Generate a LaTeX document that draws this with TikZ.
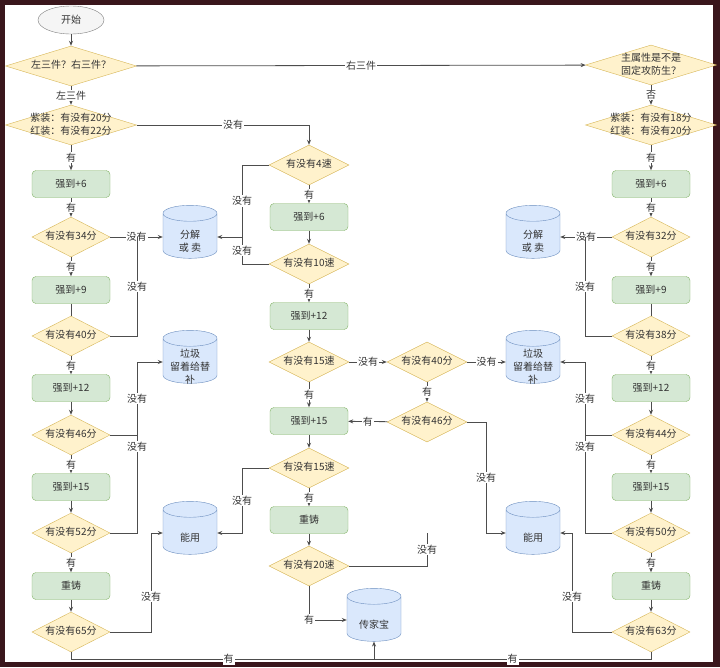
\documentclass[tikz,border=0pt]{standalone}
\usepackage{fontspec}
\setmainfont{Noto Sans CJK SC}
\usetikzlibrary{shapes.geometric, arrows.meta}

\definecolor{bgdark}{RGB}{58,22,28}
\definecolor{askfill}{HTML}{FFF2CC}
\definecolor{askline}{HTML}{D6B656}
\definecolor{actfill}{HTML}{D5E8D4}
\definecolor{actline}{HTML}{82B366}
\definecolor{dbfill}{HTML}{DAE8FC}
\definecolor{dbline}{HTML}{6C8EBF}
\definecolor{wirec}{HTML}{4D4D4D}
\definecolor{txt}{HTML}{333333}

\newcommand{\dmd}[1]{\makebox[0pt]{\begin{tabular}{@{}c@{}}#1\end{tabular}}}
\newcommand{\dbt}[1]{\raisebox{-8pt}[12pt][12pt]{\makebox[40pt]{\begin{tabular}{@{}c@{}}#1\end{tabular}}}}

\tikzset{
	oval/.style={ellipse, draw=gray, fill=gray!8, minimum width=66, minimum height=28},
	ask/.style={diamond, draw=askline, fill=askfill, inner sep=0pt, minimum width=78, minimum height=40},
	askm/.style={ask, minimum width=80},
	wide/.style={ask, minimum width=131},
	act/.style={rectangle, rounded corners=4, draw=actline, fill=actfill, minimum width=78, minimum height=27},
	db/.style={cylinder, shape border rotate=90, aspect=0.38, draw=dbline, fill=dbfill, minimum width=54, minimum height=53, inner sep=1pt},
	tag/.style={fill=white, inner sep=1pt},
	wire/.style={draw=wirec, line width=0.8pt},
	arr/.style={wire, -{Stealth[length=5pt,width=4pt]}}
}

\begin{document}
\begin{tikzpicture}[x=1pt, y=-1pt, every node/.style={font=\fontsize{10}{13}\selectfont, text=txt}]
			\fill[bgdark] (0,0) rectangle (720,667);
			\fill[white] (5,5) rectangle (713,662);
			\useasboundingbox (0,0) rectangle (720,667);

			\node[oval] (start) at (71,20) {开始};
			\node[wide] (q0) at (71,66) {\dmd{左三件？右三件？}};
			\node[wide] (attr) at (651,65) {\dmd{主属性是不是\\固定攻防生？}};
			\node[wide] (l0) at (71,125) {\dmd{紫装：有没有20分\\红装：有没有22分}};
			\node[wide] (r0) at (651,125) {\dmd{紫装：有没有18分\\红装：有没有20分}};

			\foreach \p/\x in {l/71, r/651}
			{
				\foreach \i/\y/\t in {1/184/强到+6, 3/290/强到+9, 5/388/强到+12, 7/487/强到+15, 9/586/重铸}
				{
					\node[act] (\p\i) at (\x,\y) {\t};
				}
			}
			\foreach \i/\y/\a/\b in {2/237/34/32, 4/336/40/38, 6/435/46/44, 8/533/52/50, 10/632/65/63}
			{
				\node[ask] (l\i) at (71,\y) {\dmd{有没有\a 分}};
				\node[ask] (r\i) at (651,\y) {\dmd{有没有\b 分}};
			}

			\node[askm] (m4) at (309,165) {\dmd{有没有4速}};
			\node[act] (ms6) at (309,217) {强到+6};
			\node[askm] (m10) at (309,264) {\dmd{有没有10速}};
			\node[act] (ms12) at (309,316) {强到+12};
			\node[askm] (m15) at (309,362) {\dmd{有没有15速}};
			\node[askm] (m40) at (427,362) {\dmd{有没有40分}};
			\node[askm] (m46) at (427,422) {\dmd{有没有46分}};
			\node[act] (ms15) at (309,421) {强到+15};
			\node[askm] (m15b) at (309,468) {\dmd{有没有15速}};
			\node[act] (mcz) at (309,520) {重铸};
			\node[askm] (m20) at (309,566) {\dmd{有没有20速}};

			\node[db] (fjl) at (190,237) {\dbt{分解\\或 卖}};
			\node[db] (ljl) at (190,362) {\dbt{垃圾\\留着给替\\补}};
			\node[db] (nyl) at (190,533) {\dbt{能用}};
			\node[db] (fjr) at (533,237) {\dbt{分解\\或 卖}};
			\node[db] (ljr) at (533,362) {\dbt{垃圾\\留着给替\\补}};
			\node[db] (nyr) at (533,533) {\dbt{能用}};
			\node[db] (cjb) at (374,620) {\dbt{传家宝}};

			\coordinate (ja) at (137,237);
			\coordinate (jb) at (137,362);
			\coordinate (jc) at (137,435);
			\coordinate (jd) at (151,533);
			\coordinate (je) at (242,237);
			\coordinate (jf) at (242,533);
			\coordinate (jg) at (486,533);
			\coordinate (jh) at (427,533);
			\coordinate (jk) at (427,566);
			\coordinate (ji) at (374,659);
			\coordinate (ka) at (585,237);
			\coordinate (kb) at (585,362);
			\coordinate (kc) at (585,435);
			\coordinate (kd) at (572,533);

			\draw[arr] (start) -- (q0);
			\draw[arr] (q0) -- node[tag] {左三件} (l0);
			\draw[arr] (q0) -- node[tag] {右三件} (attr);
			\draw[arr] (attr) -- node[tag] {否} (r0);

			\foreach \p in {l,r}
			{
				\foreach \a/\b in {0/1, 1/2, 2/3, 4/5, 6/7, 8/9}
				{
					\draw[arr] (\p\a) -- node[tag] {有} (\p\b);
				}
				\foreach \a/\b in {5/6, 7/8, 9/10}
				{
					\draw[arr] (\p\a) -- (\p\b);
				}
				\draw[wire] (\p3) -- (\p4);
			}

			\draw[arr] (l2) -- node[tag] {没有} (fjl);
			\draw[wire] (l4.east) -| node[tag, pos=0.75] {没有} (ja);
			\draw[arr] (l6.east) -| node[tag, pos=0.75] {没有} (jb) -- (ljl);
			\draw[wire] (l8.east) -| node[tag, pos=0.94] {没有} (jc);
			\draw[arr] (l10.east) -| node[tag, pos=0.68] {没有} (jd) -- (nyl);

			\draw[arr] (r2) -- node[tag] {没有} (fjr);
			\draw[wire] (r4.west) -| node[tag, pos=0.75] {没有} (ka);
			\draw[arr] (r6.west) -| node[tag, pos=0.75] {没有} (kb) -- (ljr);
			\draw[wire] (r8.west) -| node[tag, pos=0.94] {没有} (kc);
			\draw[arr] (r10.west) -| node[tag, pos=0.68] {没有} (kd) -- (nyr);

			\draw[arr] (l0.east) -| node[tag, pos=0.28] {没有} (m4);
			\draw[arr] (m4) -- node[tag] {有} (ms6);
			\draw[arr] (ms6) -- (m10);
			\draw[arr] (m4.west) -| node[tag, pos=0.75] {没有} (je) -- (fjl);
			\draw[wire] (m10.west) -| node[tag, pos=0.75] {没有} (je);
			\draw[arr] (m10) -- node[tag] {有} (ms12);
			\draw[arr] (ms12) -- (m15);
			\draw[arr] (m15) -- node[tag] {有} (ms15);
			\draw[arr] (m15) -- node[tag] {没有} (m40);
			\draw[arr] (m40) -- node[tag] {没有} (ljr);
			\draw[arr] (m40) -- node[tag] {有} (m46);
			\draw[arr] (m46) -- node[tag] {有} (ms15);
			\draw[arr] (m46.east) -| node[tag, pos=0.75] {没有} (jg) -- (nyr);
			\draw[arr] (ms15) -- (m15b);
			\draw[arr] (m15b.west) -| node[tag, pos=0.75] {没有} (jf) -- (nyl);
			\draw[arr] (m15b) -- node[tag] {有} (mcz);
			\draw[arr] (mcz) -- (m20);
			\draw[wire] (m20.east) -- (jk) -- node[tag] {没有} (jh);
			\draw[arr] (m20.south) |- node[tag] {有} (cjb.west);

			\draw[arr] (l10.south) |- node[tag, pos=0.76] {有} (ji) -- (cjb.south);
			\draw[wire] (r10.south) |- node[tag, pos=0.75] {有} (ji);
		\end{tikzpicture}
\end{document}
